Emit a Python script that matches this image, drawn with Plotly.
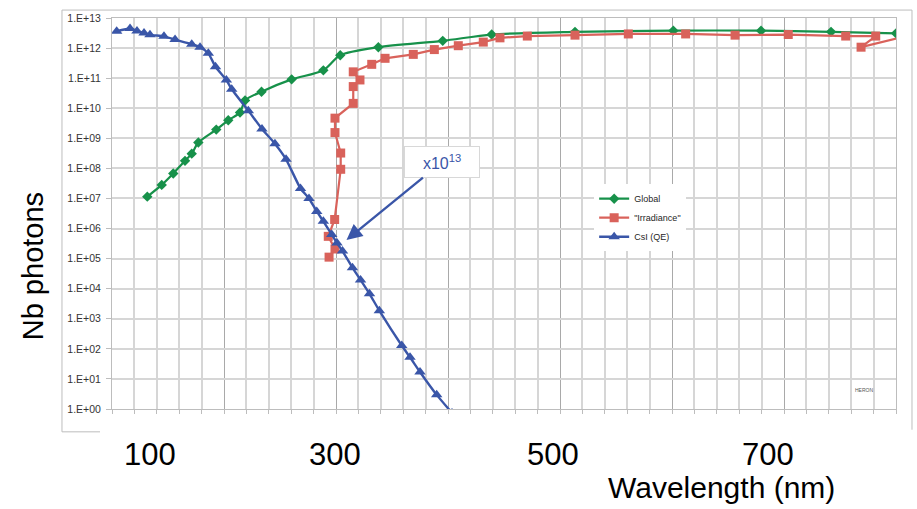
import math
import plotly.graph_objects as go

# ---------------- data ----------------
csi_nm = [104.2, 116.1, 122.3, 128.6, 133.9, 146.4, 156.3, 171.2, 178.6, 186.0,
          192.4, 202.1, 206.9, 221.7, 233.9, 245.5, 255.4, 268.3, 275.9, 282.8,
          288.7, 296.2, 300.9, 305.8, 314.7, 321.9, 329.9, 338.7, 358.7, 366.1,
          375.0, 389.9, 403.6]
csi_val = [3.63e12, 4.47e12, 3.72e12, 3.16e12, 2.75e12, 2.45e12, 1.91e12, 1.35e12, 1.07e12, 6.76e11,
           2.40e11, 8.71e10, 4.27e10, 8.32e9, 2.04e9, 6.61e8, 2.0e8, 2.14e7, 1.0e7, 3.72e6,
           1.74e6, 6.31e5, 3.31e5, 1.78e5, 5.01e4, 1.95e4, 6.76e3, 1.86e3, 129, 52.5,
           17.0, 2.95, 0.74]

global_nm = [131.5, 144.4, 154.7, 165.2, 171.2, 177.1, 193.1, 203.8, 214.3, 218.8,
             233.5, 260.4, 288.7, 303.8, 337.8, 395.3, 439.0, 513.4, 601.2, 679.5,
             742.0, 800.0]
global_val = [1.15e7, 2.82e7, 6.76e7, 1.78e8, 3.09e8, 7.24e8, 1.95e9, 3.98e9, 7.24e9, 1.82e10,
              3.55e10, 9.12e10, 1.82e11, 5.75e11, 1.07e12, 1.74e12, 2.82e12, 3.47e12, 3.80e12, 3.80e12,
              3.47e12, 3.09e12]

irr_nm = [293.8, 299.1, 293.1, 298.8, 304.2, 304.2, 299.1, 299.1, 315.4, 315.4,
          321.4, 315.4, 331.9, 343.8, 369.0, 387.8, 409.2, 431.5, 446.4, 470.8,
          513.4, 561.0, 612.2, 656.3, 703.8, 755.1, 781.9, 768.8, 825.0]
irr_val = [1.12e5, 2.09e5, 5.50e5, 2.0e6, 9.33e7, 3.24e8, 1.55e9, 4.68e9, 1.45e10, 5.25e10,
           8.71e10, 1.62e11, 2.88e11, 4.57e11, 6.17e11, 8.91e11, 1.20e12, 1.58e12, 2.19e12, 2.51e12,
           2.69e12, 2.95e12, 2.95e12, 2.69e12, 2.82e12, 2.51e12, 2.51e12, 1.07e12, 3.47e12]

y_exponents = list(range(0, 14))
y_ticktext = ["1.E+%02d" % e for e in y_exponents]
y_tickvals = [10 ** e for e in y_exponents]

big_x_labels = ["100", "300", "500", "700"]
big_x_label_pos = [134, 299, 494, 686]

arrow_point = (308, 3.8e5)

# ---------------- colours ----------------
C_GREEN = "#17914a"
C_RED = "#d9625b"
C_BLUE = "#3a56a8"
GRID_MINOR = "#d6d6d6"
GRID_MAJOR = "#a9a9a9"
FRAME = "#bdbdbd"
FONT = "Liberation Sans, Arial"

fig = go.Figure()

fig.add_trace(go.Scatter(
    x=global_nm, y=global_val, name="Global", mode="lines+markers",
    line=dict(color=C_GREEN, width=2.2, shape="spline", smoothing=0.8),
    marker=dict(symbol="diamond", size=8, color=C_GREEN)))
fig.add_trace(go.Scatter(
    x=irr_nm, y=irr_val, name="\"Irradiance\"", mode="lines+markers",
    line=dict(color=C_RED, width=2.2),
    marker=dict(symbol="square", size=9, color=C_RED)))
fig.add_trace(go.Scatter(
    x=csi_nm, y=csi_val, name="CsI (QE)", mode="lines+markers",
    line=dict(color=C_BLUE, width=2.4, shape="spline", smoothing=0.5),
    marker=dict(symbol="triangle-up", size=10, color=C_BLUE)))

annotations = []
for lab, pos in zip(big_x_labels, big_x_label_pos):
    annotations.append(dict(x=pos, xref="x", y=-0.117, yref="paper", text=lab,
                            showarrow=False, xanchor="center", yanchor="middle",
                            font=dict(family=FONT, size=31, color="#000000")))
annotations.append(dict(x=644, xref="x", y=-0.2, yref="paper", text="Wavelength (nm)",
                        showarrow=False, xanchor="center", yanchor="middle",
                        font=dict(family=FONT, size=30, color="#000000")))
annotations.append(dict(x=-0.1008, xref="paper", y=0.365, yref="paper", text="Nb photons",
                        showarrow=False, textangle=-90, xanchor="center", yanchor="middle",
                        font=dict(family=FONT, size=29, color="#000000")))
annotations.append(dict(x=arrow_point[0], xref="x", y=math.log10(arrow_point[1]), yref="y",
                        text="x10<sup>13</sup>", showarrow=True, axref="pixel", ayref="pixel",
                        ax=97, ay=-79, arrowhead=2, arrowsize=1.3, arrowwidth=2.4,
                        arrowcolor=C_BLUE, standoff=2,
                        font=dict(family=FONT, size=16, color=C_BLUE),
                        bgcolor="#ffffff", bordercolor="#d8d8d8", borderwidth=1,
                        width=72, height=28, align="center"))
annotations.append(dict(x=0.973, xref="paper", y=0.035, yref="paper", text="HERON",
                        showarrow=False,
                        font=dict(family=FONT, size=5, color="#555555")))

shapes = [
    dict(type="line", xref="paper", yref="paper", x0=-0.0638, x1=1.0204, y0=1.0203, y1=1.0203,
         line=dict(color=FRAME, width=1)),
    dict(type="line", xref="paper", yref="paper", x0=-0.0638, x1=-0.0638, y0=-0.0584, y1=1.0203,
         line=dict(color=FRAME, width=1)),
    dict(type="line", xref="paper", yref="paper", x0=1.0204, x1=1.0204, y0=-0.053, y1=1.0203,
         line=dict(color=FRAME, width=1)),
    dict(type="line", xref="paper", yref="paper", x0=-0.0638, x1=-0.0153, y0=-0.0584, y1=-0.0584,
         line=dict(color=FRAME, width=1)),
]

fig.update_layout(
    width=917, height=509,
    margin=dict(l=112, r=21, t=15, b=100),
    paper_bgcolor="#ffffff", plot_bgcolor="#ffffff",
    font=dict(family=FONT, color="#404040"),
    showlegend=True,
    legend=dict(x=0.615, y=0.575, xanchor="left", yanchor="top",
                bgcolor="#ffffff", borderwidth=0,
                font=dict(size=9, color="#262626"), itemwidth=30,
                tracegroupgap=0),
    annotations=annotations,
    shapes=shapes,
)

fig.update_xaxes(
    range=[100, 800], dtick=100, tick0=100,
    showgrid=True, gridcolor=GRID_MAJOR, gridwidth=1,
    showticklabels=False, ticks="outside", ticklen=4, tickcolor=FRAME,
    showline=True, linecolor=FRAME, linewidth=1, mirror=True,
    minor=dict(dtick=20, showgrid=True, gridcolor=GRID_MINOR, gridwidth=1.5,
               ticks="outside", ticklen=4, tickcolor=FRAME),
    zeroline=False,
)
fig.update_yaxes(
    type="log", range=[0, 13],
    tickvals=y_tickvals, ticktext=y_ticktext,
    tickfont=dict(size=10.5, color="#333333"),
    ticklabelstandoff=3,
    showgrid=True, gridcolor=GRID_MINOR, gridwidth=1.8,
    ticks="outside", ticklen=5, tickcolor=FRAME,
    showline=True, linecolor=FRAME, linewidth=1, mirror=True,
    minor=dict(ticks="outside", ticklen=2, tickcolor=FRAME, showgrid=False),
    zeroline=False,
)

fig.write_html("out.html",
               config={"displayModeBar": False},
               post_script="document.body.style.margin='0';document.body.style.overflow='hidden';")
